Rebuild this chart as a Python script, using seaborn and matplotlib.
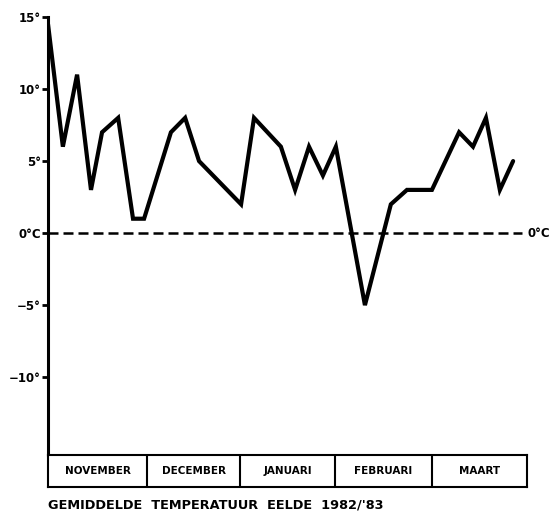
import pandas as pd
import matplotlib.pyplot as plt
import seaborn as sns

# day number (from 1 november) and mean temperature
days = [0, 4.7, 9.2, 13.6, 17.1, 22.2, 26.9, 30.4, 38.9, 43.4, 47.8, 61.1, 65.2,
        73.7, 78.2, 82.6, 87.0, 91.1, 100.3, 108.5, 113.6, 121.5, 130.1, 134.5,
        138.6, 143.0, 147.2]
temps = [14.5, 6, 11, 3, 7, 8, 1, 1, 7, 8, 5, 2, 8,
         6, 3, 6, 4, 6, -5, 2, 3, 3, 7, 6,
         8, 3, 5]

months = ['NOVEMBER', 'DECEMBER', 'JANUARI', 'FEBRUARI', 'MAART']
month_edges = [0, 31.3, 60.8, 90.8, 121.5, 151.6]

yticks = [15, 10, 5, 0, -5, -10]
ytick_labels = ['15°', '10°', '5°', '0°C', '−5°', '−10°']

data = pd.DataFrame({'dag': days, 'temperatuur': temps})

sns.set_style('white')
plt.rcParams['font.family'] = ['DejaVu Sans']
plt.rcParams['text.color'] = 'black'
plt.rcParams['ytick.color'] = 'black'
plt.rcParams['axes.edgecolor'] = 'black'

fig = plt.figure(figsize=(5.59, 5.22), dpi=100)
ax = fig.add_axes([0.0859, 0.1284, 0.9428 - 0.0859, 0.9674 - 0.1284])
strip = fig.add_axes([0.0859, 0.067, 0.9428 - 0.0859, 0.1284 - 0.067], sharex=ax)

sns.lineplot(data=data, x='dag', y='temperatuur', ax=ax, color='black',
             linewidth=3, solid_joinstyle='miter')
ax.axhline(0, xmax=0.99, color='black', linewidth=1.8, dashes=(4, 2))
ax.text(1.002, 0, '0°C', transform=ax.get_yaxis_transform(), va='center',
        ha='left', fontsize=8.5, fontweight='bold')

ax.set_xlim(month_edges[0], month_edges[-1])
ax.set_ylim(-15.4, 15)
ax.set_yticks(yticks)
ax.set_yticklabels(ytick_labels, fontsize=8.5, fontweight='bold')
ax.tick_params(axis='y', direction='out', length=4, width=2, pad=1, left=True)
ax.tick_params(axis='x', bottom=False, labelbottom=False)
ax.set_xlabel('')
ax.set_ylabel('')
for side in ['top', 'right', 'bottom']:
    ax.spines[side].set_visible(False)
ax.spines['left'].set_linewidth(2.2)

# month strip under the chart
strip.set_ylim(0, 1)
for edge in month_edges[1:-1]:
    strip.axvline(edge, color='black', linewidth=1.5)
for i, name in enumerate(months):
    mid = (month_edges[i] + month_edges[i + 1]) / 2
    strip.text(mid, 0.5, name, ha='center', va='center', fontsize=7.5,
               fontweight='bold')
strip.set_xticks([])
strip.set_yticks([])
strip.tick_params(bottom=False, left=False, labelbottom=False, labelleft=False)
for side in strip.spines.values():
    side.set_linewidth(1.5)
    side.set_color('black')

fig.text(0.0859, 0.0326, "GEMIDDELDE  TEMPERATUUR  EELDE  1982/'83",
         ha='left', va='center', fontsize=9.3, fontweight='bold')

plt.savefig('out.png', dpi=100)
